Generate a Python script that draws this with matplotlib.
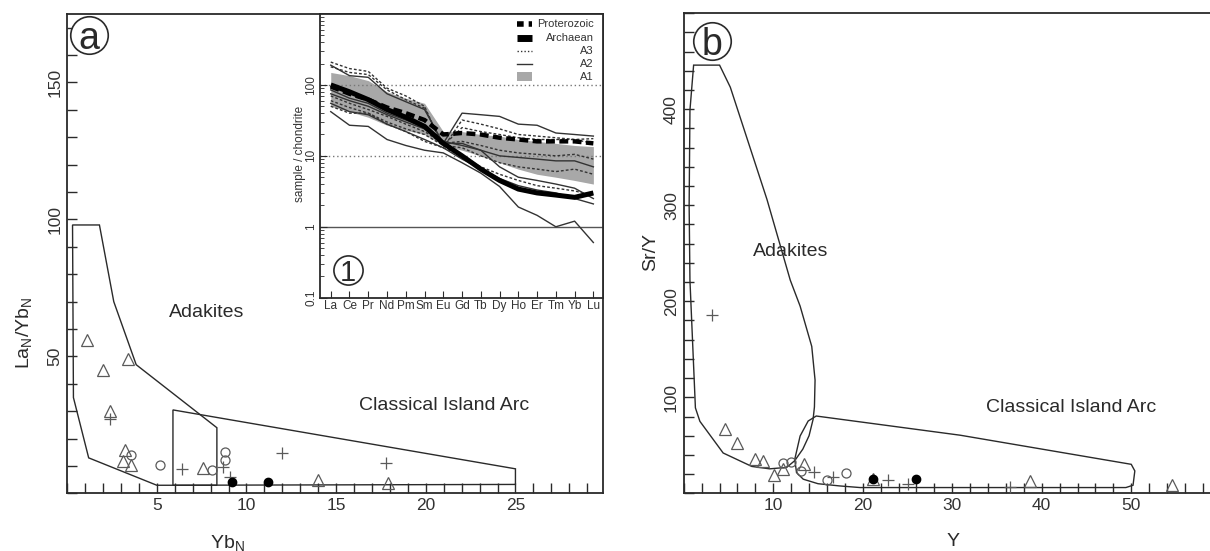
import matplotlib
matplotlib.use('Agg')
import matplotlib.pyplot as plt
from matplotlib.patches import Polygon, Rectangle
from matplotlib.ticker import MultipleLocator, FixedLocator, LogLocator, NullFormatter

plt.rcParams['font.family'] = ['Liberation Sans', 'DejaVu Sans']
plt.rcParams['mathtext.fontset'] = 'custom'
plt.rcParams['mathtext.rm'] = 'Liberation Sans'
plt.rcParams['mathtext.it'] = 'Liberation Sans'

INK = '#2a2a2a'
GREY = '#5a5a5a'

# ---- panel a: LaN/YbN vs YbN ----
adakite_a_x = [0.3, 1.8, 2.6, 3.85, 8.35, 8.35, 5.0, 1.2, 0.35]
adakite_a_y = [98, 98, 70, 47, 24, 3, 3, 13, 35]
arc_a_x = [5.9, 5.9, 25.0, 25.0]
arc_a_y = [3, 30.5, 9, 3.3]

tri_a_x = [1.1, 2.0, 3.4, 2.4, 3.2, 3.1, 3.55, 7.55, 14.0, 17.9]
tri_a_y = [56, 45, 49, 30, 16, 12, 10.5, 9.2, 4.9, 3.9]
circ_a_x = [3.55, 5.2, 8.05, 8.8, 8.8]
circ_a_y = [14, 10.5, 8.5, 15.2, 12.2]
plus_a_x = [2.4, 6.4, 8.7, 9.1, 12.0, 17.8]
plus_a_y = [27, 8.9, 9.7, 5.9, 14.6, 11.2]
dot_a_x = [9.2, 11.2]
dot_a_y = [4.3, 4.3]

# ---- panel b: Sr/Y vs Y ----
adakite_b_x = [1.1, 4.0, 5.2, 9.3, 11.9, 13.0, 14.3, 14.67, 14.6, 14.45, 14.0,
               13.3, 12.4, 11.5, 9.6, 7.6, 4.4, 1.8, 1.3, 0.69, 0.6, 0.69]
adakite_b_y = [446, 446, 423, 306, 222, 195, 153, 118, 90, 77, 60,
               46, 34, 27, 25.5, 28, 42, 75, 89, 222, 300, 399]
arc_b_x = [14.8, 30.9, 50.0, 50.4, 50.2, 49.4, 19.7, 17.4, 15.0, 13.35, 12.6,
           12.4, 13.0, 13.9]
arc_b_y = [80.5, 60.5, 30.2, 23.3, 8.4, 6, 6, 7.7, 10, 14.7, 21.6,
           35.4, 59.7, 75.3]

tri_b_x = [4.6, 6.0, 8.0, 8.8, 10.05, 11.1, 13.45, 21.2, 38.7, 54.6]
tri_b_y = [67, 52, 35.4, 33.7, 19.1, 25, 30.2, 14.7, 12.9, 8.4]
circ_b_x = [11.1, 12.0, 13.1, 16.05, 18.1]
circ_b_y = [31.3, 32.6, 23.3, 14, 21.6]
plus_b_x = [3.1, 14.55, 16.7, 22.85, 25.0, 36.4]
plus_b_y = [186, 22.3, 17.4, 14, 9.5, 7]
dot_b_x = [21.1, 26.0]
dot_b_y = [15.3, 15.3]

# ---- inset: chondrite-normalised REE ----
ree = ['La', 'Ce', 'Pr', 'Nd', 'Pm', 'Sm', 'Eu', 'Gd', 'Tb', 'Dy', 'Ho', 'Er', 'Tm', 'Yb', 'Lu']
proterozoic = [95, 75, 62, 48, 40, 32, 20, 21, 20, 18, 17, 16, 16, 16, 15]
archaean = [100, 80, 62, 45, 35, 26, 15, 10, 6.5, 4.5, 3.4, 3.0, 2.8, 2.6, 3.0]
a1_upper = [150, 135, 115, 80, 65, 55, 22, 22, 20, 19, 17, 16, 15, 14, 13.5]
a1_lower = [50, 42, 35, 27, 23, 20, 14, 12, 10, 8, 6.5, 5.5, 5, 4.5, 4]
a2_1 = [190, 135, 128, 75, 58, 45, 15, 40, 38, 36, 28, 27, 21, 20, 19]
a2_2 = [42, 27, 26, 17, 14, 12, 11, 8, 5.7, 3.7, 1.9, 1.45, 1.0, 1.2, 0.6]
a2_3 = [75, 60, 50, 38, 30, 24, 16, 14, 12, 10, 9.5, 9, 8.5, 8.5, 7]
a2_4 = [55, 42, 38, 28, 22, 17, 13, 9, 6.5, 4.8, 3.8, 3.3, 3.0, 2.5, 2.1]
a2_5 = [85, 65, 55, 40, 32, 25, 15, 15, 12, 7, 5, 4.5, 4, 3.5, 2.5]
a3_1 = [210, 170, 155, 90, 70, 50, 13, 32, 28, 24, 20, 19, 18, 17, 17.5]
a3_2 = [180, 150, 140, 85, 62, 47, 14, 25, 22, 20, 18, 17, 17, 17, 15]
a3_3 = [70, 55, 45, 36, 28, 22, 15, 16, 14, 12, 11, 10.5, 10, 10.5, 9]
a3_4 = [60, 48, 40, 30, 24, 20, 14, 13, 10, 8, 7, 6.5, 6, 6.5, 5.5]
a3_5 = [50, 40, 40, 28, 22, 16, 13, 10, 7, 5.5, 4.5, 3.8, 3.5, 3.2, 2.8]

legend_labels = ['Proterozoic', 'Archaean', 'A3', 'A2', 'A1']

fig = plt.figure(figsize=(12.1, 5.51), dpi=100)
ax_a = fig.add_axes([0.0555, 0.1044, 0.4431, 0.8702])
ax_b = fig.add_axes([0.5651, 0.1047, 0.4349, 0.8712])
ax_i = fig.add_axes([0.2645, 0.4597, 0.2341, 0.5149])


def style_axes(ax):
    for sp in ax.spines.values():
        sp.set_color(INK)
        sp.set_linewidth(1.3)
    ax.tick_params(which='both', direction='in', colors=INK, labelcolor='#333333',
                   labelsize=12.5, width=1.0)
    ax.tick_params(which='major', length=7)
    ax.tick_params(which='minor', length=7)
    ax.tick_params(axis='y', labelrotation=90)
    for t in ax.get_yticklabels():
        t.set_va('center')


def draw_points(ax, tx, ty, cx, cy, px, py, dx, dy):
    ax.plot(tx, ty, '^', ms=9, mfc='none', mec=GREY, mew=0.9, ls='none', zorder=3)
    ax.plot(cx, cy, 'o', ms=6.5, mfc='none', mec=GREY, mew=0.9, ls='none', zorder=3)
    ax.plot(px, py, '+', ms=8, mec=GREY, mew=0.9, ls='none', zorder=3)
    ax.plot(dx, dy, 'o', ms=6, mfc='black', mec='black', ls='none', zorder=4)


def circled(ax, fx, fy, s, ms, fs):
    ax.plot([fx], [fy], 'o', ms=ms, mfc='white', mec=INK, mew=1.2,
            transform=ax.transAxes, clip_on=False, zorder=6)
    ax.text(fx, fy, s, fontsize=fs, ha='center', va='center_baseline',
            color=INK, transform=ax.transAxes, zorder=7)


# panel a
ax_a.add_patch(Polygon(list(zip(adakite_a_x, adakite_a_y)), closed=True,
                       fill=False, ec=INK, lw=1.0))
ax_a.add_patch(Polygon(list(zip(arc_a_x, arc_a_y)), closed=True,
                       fill=False, ec=INK, lw=1.0))
draw_points(ax_a, tri_a_x, tri_a_y, circ_a_x, circ_a_y, plus_a_x, plus_a_y, dot_a_x, dot_a_y)
ax_a.set_xlim(0, 29.9)
ax_a.set_ylim(0, 175)
ax_a.xaxis.set_major_locator(FixedLocator([5, 10, 15, 20, 25]))
ax_a.xaxis.set_minor_locator(MultipleLocator(1))
ax_a.yaxis.set_major_locator(FixedLocator([50, 100, 150]))
ax_a.yaxis.set_minor_locator(MultipleLocator(10))
style_axes(ax_a)
ax_a.text(7.8, 66, 'Adakites', fontsize=14, ha='center', va='center', color=INK)
ax_a.text(21.0, 32, 'Classical Island Arc', fontsize=14, ha='center', va='center', color=INK)
ax_a.set_xlabel(r'Yb$_{\rm N}$', fontsize=14, color=INK)
ax_a.xaxis.set_label_coords(0.298, -0.082)
ax_a.set_ylabel(r'La$_{\rm N}$/Yb$_{\rm N}$', fontsize=14, color=INK)
ax_a.yaxis.set_label_coords(-0.062, 0.335)
circled(ax_a, 0.041, 0.956, 'a', 27, 27)

# panel b
ax_b.add_patch(Polygon(list(zip(adakite_b_x, adakite_b_y)), closed=True,
                       fill=False, ec=INK, lw=1.0))
ax_b.add_patch(Polygon(list(zip(arc_b_x, arc_b_y)), closed=True,
                       fill=False, ec=INK, lw=1.0))
draw_points(ax_b, tri_b_x, tri_b_y, circ_b_x, circ_b_y, plus_b_x, plus_b_y, dot_b_x, dot_b_y)
ax_b.set_xlim(0, 58.8)
ax_b.set_ylim(0, 500)
ax_b.xaxis.set_major_locator(FixedLocator([10, 20, 30, 40, 50]))
ax_b.xaxis.set_minor_locator(MultipleLocator(2))
ax_b.yaxis.set_major_locator(FixedLocator([100, 200, 300, 400]))
ax_b.yaxis.set_minor_locator(MultipleLocator(20))
style_axes(ax_b)
ax_b.spines['right'].set_visible(False)
ax_b.text(11.9, 252, 'Adakites', fontsize=14, ha='center', va='center', color=INK)
ax_b.text(43.3, 89, 'Classical Island Arc', fontsize=14, ha='center', va='center', color=INK)
ax_b.set_xlabel('Y', fontsize=14, color=INK)
ax_b.xaxis.set_label_coords(0.512, -0.082)
ax_b.set_ylabel('Sr/Y', fontsize=14, color=INK)
ax_b.yaxis.set_label_coords(-0.046, 0.503)
circled(ax_b, 0.053, 0.942, 'b', 27, 27)

# inset REE diagram
pos = list(range(len(ree)))
ax_i.set_facecolor('white')
ax_i.set_zorder(5)
ax_i.fill_between(pos, a1_lower, a1_upper, color='#a8a8a8', lw=0, zorder=1)
ax_i.axhline(100, color='#777777', lw=1.0, ls=(0, (1, 2)), zorder=1)
ax_i.axhline(10, color='#777777', lw=1.0, ls=(0, (1, 2)), zorder=1)
ax_i.axhline(1, color='#555555', lw=1.0, zorder=1)
for line in [a2_1, a2_2, a2_3, a2_4, a2_5]:
    ax_i.plot(pos, line, color='#333333', lw=1.0, zorder=2)
for line in [a3_1, a3_2, a3_3, a3_4, a3_5]:
    ax_i.plot(pos, line, color='#333333', lw=1.0, ls=(0, (2, 1.5)), zorder=2)
ax_i.plot(pos, archaean, color='black', lw=3.6, zorder=3, solid_capstyle='butt')
ax_i.plot(pos, proterozoic, color='black', lw=3.2, dashes=(2, 1), zorder=3)
ax_i.set_yscale('log')
ax_i.set_ylim(0.1, 1000)
ax_i.set_xlim(-0.57, 14.53)
ax_i.set_xticks(pos)
ax_i.set_xticklabels(ree)
ax_i.yaxis.set_major_locator(FixedLocator([0.1, 1, 10, 100]))
ax_i.yaxis.set_minor_locator(LogLocator(base=10, subs=range(2, 10)))
ax_i.yaxis.set_minor_formatter(NullFormatter())
ax_i.set_yticklabels(['0.1', '1', '10', '100'])
for sp in ax_i.spines.values():
    sp.set_color(INK)
    sp.set_linewidth(1.3)
ax_i.tick_params(which='both', direction='in', colors=INK, labelcolor='#333333', labelsize=8.5)
ax_i.tick_params(which='major', length=5, pad=2)
ax_i.tick_params(which='minor', length=3)
ax_i.tick_params(axis='y', labelrotation=90)
for t in ax_i.get_yticklabels():
    t.set_va('center')
ax_i.set_ylabel('sample / chondrite', fontsize=8.5, color='#333333')
ax_i.yaxis.set_label_coords(-0.05, 0.507)
circled(ax_i, 0.098, 0.098, '1', 21, 21)

# legend of the inset: symbols on the left, labels right-aligned
tr = ax_i.transAxes
hx0, hx1, tx = 0.694, 0.747, 0.967
rows = [0.965, 0.916, 0.868, 0.825, 0.779]
ax_i.plot([hx0, hx1], [rows[0]] * 2, color='black', lw=4, dashes=(1.2, 0.9), transform=tr, zorder=8)
ax_i.plot([hx0, hx1], [rows[1]] * 2, color='black', lw=5, solid_capstyle='butt', transform=tr, zorder=8)
ax_i.plot([hx0, hx1], [rows[2]] * 2, color='#333333', lw=1, ls=(0, (1, 1.5)), transform=tr, zorder=8)
ax_i.plot([hx0, hx1], [rows[3]] * 2, color='#333333', lw=1, transform=tr, zorder=8)
ax_i.add_patch(Rectangle((hx0, rows[4] - 0.015), hx1 - hx0, 0.03, transform=tr,
                         facecolor='#a8a8a8', edgecolor='none', zorder=8))
for lab, ry in zip(legend_labels, rows):
    ax_i.text(tx, ry, lab, fontsize=8, ha='right', va='center', color='#333333',
              transform=tr, zorder=8)

fig.savefig('out.png', dpi=100, facecolor='white')
